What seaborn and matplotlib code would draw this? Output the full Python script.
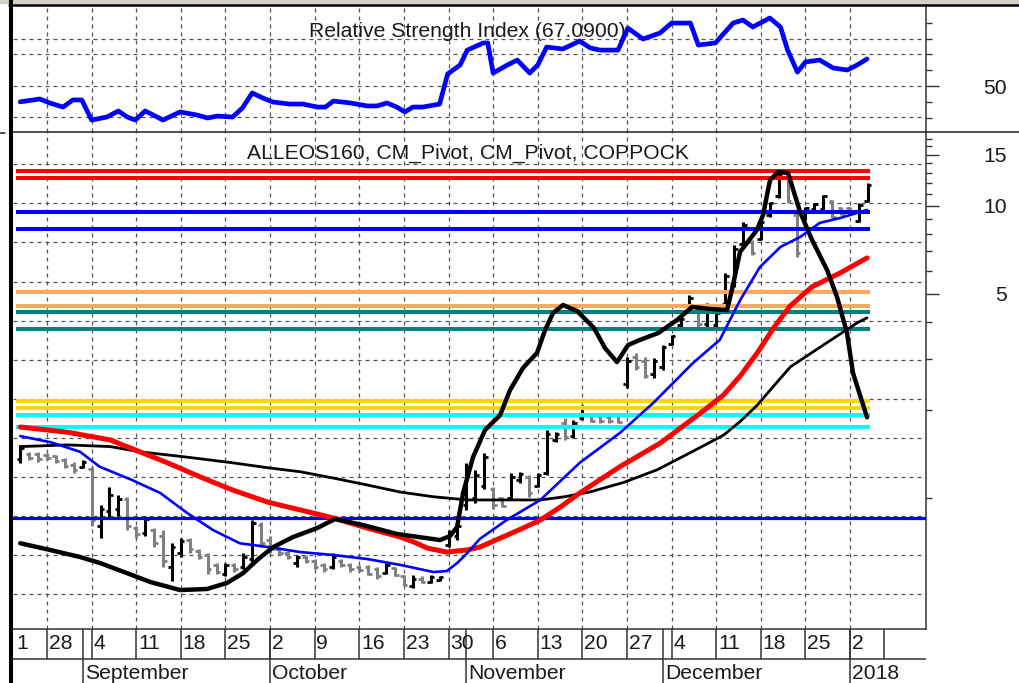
import numpy as np
import seaborn as sns
import matplotlib.pyplot as plt
from matplotlib.lines import Line2D
from matplotlib.patches import Rectangle
from matplotlib.ticker import FixedLocator, FixedFormatter, NullFormatter

sns.set_style('white')
plt.rcParams['font.family'] = ['Liberation Sans', 'DejaVu Sans']

# daily bars (x = trading-day index, 0 = 23 Aug 2017)
bar_high = [1.52, 1.44, 1.44, 1.43, 1.40, 1.37, 1.33, 1.35, 1.28, 0.95,
            1.09, 1.02, 1.01, 0.80, 0.87, 0.79, 0.78, 0.70, 0.73, 0.73,
            0.67, 0.65, 0.60, 0.60, 0.60, 0.65, 0.84, 0.83, 0.74, 0.68,
            0.66, 0.64, 0.64, 0.62, 0.60, 0.65, 0.62, 0.60, 0.59, 0.59,
            0.58, 0.60, 0.58, 0.545, 0.545, 0.54, 0.545, 0.54, 0.78, 0.82,
            1.32, 1.25, 1.43, 1.09, 1.01, 1.22, 1.23, 1.20, 1.22, 1.71,
            1.68, 1.88, 1.85, 2.08, 1.95, 1.92, 1.92, 1.95, 3.04, 3.14,
            3.04, 3.02, 3.34, 3.62, 4.17, 4.96, 4.47, 4.65, 4.34, 5.90,
            7.35, 8.81, 7.65, 8.96, 10.32, 13.07, 12.77, 9.46, 9.92, 10.24,
            10.91, 10.48, 9.92, 9.92, 10.24, 11.99]
bar_low = [1.32, 1.35, 1.33, 1.35, 1.32, 1.27, 1.22, 1.27, 0.80, 0.73,
           0.85, 0.87, 0.78, 0.73, 0.74, 0.68, 0.58, 0.52, 0.63, 0.65,
           0.62, 0.55, 0.55, 0.54, 0.56, 0.57, 0.60, 0.68, 0.65, 0.64,
           0.62, 0.58, 0.60, 0.57, 0.56, 0.57, 0.58, 0.56, 0.56, 0.545,
           0.53, 0.55, 0.54, 0.50, 0.49, 0.51, 0.51, 0.52, 0.68, 0.72,
           0.91, 0.96, 1.07, 0.92, 0.93, 0.985, 1.13, 1.01, 1.09, 1.20,
           1.555, 1.58, 1.60, 1.85, 1.82, 1.81, 1.81, 1.81, 2.38, 2.74,
           2.58, 2.58, 2.74, 3.34, 3.85, 4.30, 3.85, 3.85, 3.85, 4.51,
           5.28, 7.24, 6.80, 7.65, 9.17, 10.65, 10.24, 6.69, 8.96, 9.69,
           9.69, 9.10, 9.32, 9.46, 8.81, 10.32]
bar_open = [1.36, 1.42, 1.42, 1.40, 1.39, 1.35, 1.30, 1.28, 1.26, 0.80,
            0.90, 0.92, 0.99, 0.79, 0.76, 0.78, 0.74, 0.58, 0.65, 0.72,
            0.66, 0.64, 0.59, 0.55, 0.59, 0.58, 0.62, 0.81, 0.72, 0.67,
            0.65, 0.60, 0.63, 0.61, 0.59, 0.58, 0.61, 0.59, 0.58, 0.58,
            0.57, 0.555, 0.575, 0.54, 0.50, 0.53, 0.515, 0.525, 0.69, 0.74,
            0.95, 1.00, 1.10, 1.07, 1.00, 1.00, 1.15, 1.18, 1.10, 1.22,
            1.58, 1.80, 1.63, 1.88, 1.93, 1.91, 1.90, 1.92, 2.45, 3.05,
            2.95, 2.65, 2.80, 3.38, 3.90, 4.35, 4.40, 3.95, 3.90, 4.60,
            5.40, 7.40, 7.55, 7.70, 9.30, 10.80, 12.50, 9.30, 9.00, 9.75,
            9.80, 10.40, 9.85, 9.85, 8.90, 10.40]
bar_close = [1.48, 1.37, 1.36, 1.37, 1.34, 1.29, 1.25, 1.33, 0.84, 0.92,
             1.02, 0.99, 0.80, 0.75, 0.85, 0.70, 0.61, 0.68, 0.71, 0.67,
             0.63, 0.57, 0.56, 0.59, 0.57, 0.63, 0.82, 0.70, 0.67, 0.65,
             0.63, 0.63, 0.61, 0.58, 0.57, 0.63, 0.59, 0.57, 0.565, 0.55,
             0.54, 0.59, 0.545, 0.505, 0.53, 0.515, 0.535, 0.535, 0.76, 0.80,
             1.25, 1.20, 1.38, 0.95, 0.94, 1.18, 1.21, 1.04, 1.20, 1.66,
             1.65, 1.62, 1.80, 2.04, 1.84, 1.83, 1.83, 1.82, 2.95, 2.80,
             2.62, 2.95, 3.28, 3.58, 4.10, 4.85, 3.95, 4.55, 4.30, 5.75,
             7.10, 8.60, 6.90, 8.80, 10.20, 12.80, 10.40, 6.90, 9.85, 10.15,
             10.80, 9.20, 9.40, 9.50, 10.10, 11.80]

# moving averages
ma_fast_x = [0, 3.5, 6.7, 8.9, 12.6, 15.7, 18.7, 21.6, 24.6, 27.7, 31.4, 35.1, 38.9, 42.6, 46.3, 47.8,
             49.0, 50.1, 51.5, 54.5, 58.3, 62.7, 67.2, 70.9, 75.4, 78.4, 80.7, 82.9, 85.2, 87.4,
             89.6, 91.9, 94.9]
ma_fast = [1.63, 1.55, 1.44, 1.28, 1.15, 1.04, 0.889, 0.777, 0.70, 0.68, 0.653, 0.638, 0.618, 0.59,
           0.558, 0.562, 0.60, 0.648, 0.724, 0.84, 0.985, 1.32, 1.67, 2.11, 2.90, 3.48, 4.77, 6.18,
           7.24, 7.83, 8.75, 9.10, 9.69]
ma_mid_x = [0, 5.3, 10.1, 13.4, 16.5, 20.2, 23.8, 27.7, 31.4, 35.1, 38.9, 42.6, 44.2, 45.6, 47.8,
            50.1, 51.5, 53.8, 56.0, 58.3, 60.5, 62.7, 67.2, 71.7, 76.2, 78.8, 80.7, 82.6, 84.5, 86.3,
            88.7, 91.9, 94.9]
ma_mid = [1.75, 1.68, 1.58, 1.44, 1.32, 1.18, 1.065, 0.969, 0.91, 0.854, 0.789, 0.735, 0.705,
          0.674, 0.653, 0.664, 0.679, 0.729, 0.78, 0.841, 0.93, 1.04, 1.28, 1.54, 1.95, 2.25, 2.62,
          3.14, 3.85, 4.55, 5.28, 5.90, 6.64]
ma_slow_x = [0, 5.3, 10.1, 13.4, 18.7, 23.8, 27.7, 31.4, 35.1, 38.9, 42.6, 46.3, 50.1,
             52.7, 58.3, 61.0, 63.9, 67.6, 71.4, 75.1, 78.8, 80.7, 82.6, 84.5, 86.3, 90.0, 93.8, 94.9]
ma_slow = [1.50, 1.52, 1.50, 1.44, 1.38, 1.32, 1.27, 1.23, 1.17, 1.108, 1.048, 1.01, 0.985,
           0.985, 0.985, 1.01, 1.05, 1.13, 1.25, 1.43, 1.64, 1.83, 2.08, 2.43, 2.81, 3.34, 3.98, 4.14]

# coppock curve (drawn on the price scale)
coppock_x = [0.0, 3.34, 6.7, 8.94, 11.97, 14.55, 17.91, 20.93, 23.18, 24.97, 26.55, 28.34, 30.58,
             33.27, 35.28, 38.42, 42.23, 47.05, 48.17, 48.96, 49.63, 50.75, 52.09, 53.77, 54.89,
             56.35, 57.92, 58.82, 59.71, 60.83, 62.4, 64.31, 65.54, 66.88, 68.12, 69.46, 71.48,
             73.61, 75.29, 77.31, 79.21, 79.88, 80.67, 82.57, 83.25, 84.03, 84.93, 86.05, 87.4,
             88.74, 90.42, 91.54, 92.66, 93.33, 94.9]
coppock = [0.70, 0.664, 0.628, 0.599, 0.553, 0.516, 0.484, 0.488, 0.512, 0.553, 0.613, 0.679, 0.735,
           0.789, 0.847, 0.808, 0.753, 0.718, 0.741, 0.796, 1.04, 1.38, 1.71, 1.92, 2.34,
           2.79, 3.14, 3.76, 4.30, 4.58, 4.37, 3.82, 3.26, 2.92, 3.34, 3.48, 3.67,
           4.07, 4.51, 4.44, 4.40, 5.36, 6.96, 8.28, 9.32, 12.27, 13.07, 12.97, 9.54,
           7.65, 6.04, 4.88, 3.67, 2.68, 1.89]

# RSI
rsi_x = [0.0, 2.2, 3.3, 4.8, 5.9, 6.9, 8.0, 9.7, 11.0, 12.0, 12.9, 14.0, 14.9, 16.0, 17.9, 19.8,
         21.0, 22.1, 23.8, 24.9, 26.0, 27.2, 28.3, 30.2, 31.7, 33.3, 34.2, 35.1, 37.0, 38.9, 40.0,
         41.1, 42.2, 43.1, 44.0, 45.1, 47.0, 47.9, 49.3, 50.1, 51.9, 52.4, 53.0, 54.6, 55.7, 57.1,
         58.0, 59.0, 60.8, 62.7, 63.9, 65.0, 67.0, 68.1, 69.8, 71.7, 73.0, 75.1, 76.0, 77.9, 79.9,
         81.0, 82.1, 84.0, 85.2, 86.0, 87.1, 88.0, 89.6, 91.1, 92.7, 93.8, 94.9]
rsi = [40.0, 41.8, 39.3, 36.7, 41.2, 41.2, 28.5, 30.4, 34.2, 30.4, 28.5, 34.2, 31.7, 28.5, 33.6, 31.7,
       29.8, 31.0, 30.4, 36.1, 45.6, 42.4, 39.9, 38.6, 38.6, 36.7, 36.7, 40.5, 39.3, 37.4, 37.4,
       39.3, 36.7, 33.6, 36.7, 36.7, 38.6, 57.6, 63.3, 72.7, 77.2, 77.2, 58.2, 63.3, 66.4, 58.2,
       63.3, 74.6, 73.4, 78.4, 74.0, 72.7, 72.7, 86.6, 79.7, 83.5, 89.8, 89.8, 75.9, 77.2, 89.8,
       91.7, 87.3, 93.0, 87.3, 72.7, 58.8, 65.2, 66.4, 61.4, 60.1, 63.3, 67.1]

# pivot levels
pivot_levels = [13.18, 12.50, 9.51, 8.36, 5.09, 4.56, 4.35, 3.79, 2.15, 2.04, 1.92, 1.75]
pivot_colors = ['#ff0000', '#ff0000', '#0000ff', '#0000ff', '#ffa860', '#ffa860',
                '#008080', '#008080', '#ffd700', '#ffd700', '#00ffff', '#00ffff']
support_level = 0.852

# date axis
week_lines = [3, 8, 13, 18, 23, 28, 33, 38, 43, 48, 53, 58, 63, 68, 73, 78, 83, 88, 93]
day_label_pos = [-0.6] + week_lines
day_labels = ['1', '28', '4', '11', '18', '25', '2', '9', '16', '23', '30', '6', '13',
              '20', '27', '4', '11', '18', '25', '2']
month_starts = [7, 28, 50, 72, 93]
month_labels = ['September', 'October', 'November', 'December', '2018']
day_row_end = 96.8

W, H = 1020, 683
fig = plt.figure(figsize=(W / 100, H / 100), dpi=100)
L, R = 13, 926
xlim = (-0.807, 101.51)
txt_col = '#1a1a1a'
grid_kw = dict(color='#555555', lw=0.9, dashes=(3.2, 3.2), zorder=1)
FS = 15.2

ax_rsi = fig.add_axes([L / W, 1 - 132 / H, (R - L) / W, 127 / H])
ax = fig.add_axes([L / W, 1 - 629 / H, (R - L) / W, 497 / H])
ax_d = fig.add_axes([L / W, 0, (R - L) / W, 54 / H])

# ---- RSI panel
ax_rsi.set_xlim(xlim)
ax_rsi.set_ylim(20.94, 101.2)
for w in week_lines:
    ax_rsi.axvline(w, **grid_kw)
for g in [80, 70.4, 50, 30.6]:
    ax_rsi.axhline(g, **grid_kw)
sns.lineplot(x=rsi_x, y=rsi, ax=ax_rsi, color='#0000ff', linewidth=3.4, zorder=4)
ax_rsi.text(0.498, 0.746, 'Relative Strength Index (67.0900)', transform=ax_rsi.transAxes,
            ha='center', va='baseline', fontsize=FS, color=txt_col, zorder=2)
ax_rsi.yaxis.tick_right()
ax_rsi.yaxis.set_major_locator(FixedLocator([50]))
ax_rsi.yaxis.set_major_formatter(FixedFormatter(['50']))
ax_rsi.yaxis.set_minor_locator(FixedLocator([30, 40, 60, 70, 80, 90]))
ax_rsi.yaxis.set_minor_formatter(NullFormatter())
ax_rsi.tick_params(axis='y', which='major', right=True, left=False, length=9.4, width=1,
                   pad=49, labelsize=FS, labelcolor=txt_col, color='#333333')
ax_rsi.tick_params(axis='y', which='minor', right=True, left=False, length=4.6, width=1,
                   color='#333333')
for lab in ax_rsi.get_yticklabels():
    lab.set_ha('right')
ax_rsi.set_xticks([])
ax_rsi.set_xlabel('')
ax_rsi.set_ylabel('')
for s in ['top', 'bottom', 'left']:
    ax_rsi.spines[s].set_visible(False)
ax_rsi.spines['right'].set_color('#333333')
ax_rsi.spines['right'].set_linewidth(1.1)
ax_rsi.patch.set_alpha(0)

# ---- price panel
ax.set_yscale('log')
ax.set_xlim(xlim)
ax.set_ylim(0.356, 17.92)
for w in week_lines:
    ax.axvline(w, **grid_kw)
for g in np.geomspace(13.89, 0.468, 12):
    ax.axhline(g, **grid_kw)

idx = np.arange(len(bar_high))
bar_cols = np.where(np.array(bar_close) >= np.array(bar_open), 'black', '#808080')
ax.vlines(idx, bar_low, bar_high, colors=bar_cols, lw=2.2, zorder=2)
ax.hlines(bar_open, idx - 0.4, idx, colors=bar_cols, lw=2.0, zorder=2)
ax.hlines(bar_close, idx, idx + 0.4, colors=bar_cols, lw=2.0, zorder=2)

ax.hlines(pivot_levels, -0.5, 95.2, colors=pivot_colors, lw=2.9, zorder=3)
ax.axhline(support_level, color='#0000ff', lw=2.3, zorder=3)

sns.lineplot(x=ma_slow_x, y=ma_slow, ax=ax, color='black', linewidth=2.0, zorder=4)
sns.lineplot(x=ma_mid_x, y=ma_mid, ax=ax, color='#ff0000', linewidth=3.6, zorder=4)
sns.lineplot(x=ma_fast_x, y=ma_fast, ax=ax, color='#0000ff', linewidth=1.9, zorder=4)
sns.lineplot(x=coppock_x, y=coppock, ax=ax, color='black', linewidth=3.2, zorder=5)

ax.text(0.498, 0.947, 'ALLEOS160, CM_Pivot, CM_Pivot, COPPOCK', transform=ax.transAxes,
        ha='center', va='baseline', fontsize=FS, color=txt_col, zorder=2)

ax.yaxis.tick_right()
ax.yaxis.set_major_locator(FixedLocator([5, 10, 15]))
ax.yaxis.set_major_formatter(FixedFormatter(['5', '10', '15']))
ax.yaxis.set_minor_locator(FixedLocator([1, 2, 3, 4, 6, 7, 8, 9, 11, 12, 13, 14, 16, 17]))
ax.yaxis.set_minor_formatter(NullFormatter())
ax.tick_params(axis='y', which='major', right=True, left=False, length=9.4, width=1,
               pad=49, labelsize=FS, labelcolor=txt_col, color='#333333')
ax.tick_params(axis='y', which='minor', right=True, left=False, length=4.6, width=1,
               color='#333333')
for lab in ax.get_yticklabels():
    lab.set_ha('right')
ax.set_xticks([])
ax.set_xlabel('')
ax.set_ylabel('')
for s in ['top', 'left']:
    ax.spines[s].set_visible(False)
for s in ['right', 'bottom']:
    ax.spines[s].set_color('#333333')
    ax.spines[s].set_linewidth(1.1)
ax.patch.set_alpha(0)

# ---- date rows
ax_d.set_xlim(xlim)
ax_d.set_ylim(0, 54)
ax_d.axis('off')
ax_d.axhline(24, color='#333333', lw=1.1)
ax_d.vlines(week_lines + [day_row_end], 24, 54, colors='#333333', lw=1.1)
ax_d.vlines(month_starts, 0, 54, colors='#333333', lw=1.1)
for p, t in zip(day_label_pos, day_labels):
    ax_d.text(p + 0.2, 34.3, t, ha='left', va='baseline', fontsize=FS, color=txt_col)
for p, t in zip(month_starts, month_labels):
    ax_d.text(p + 0.25, 4.3, t, ha='left', va='baseline', fontsize=FS, color=txt_col)

# ---- window frame
fig.add_artist(Rectangle((0, 1 - 3.3 / H), 1, 3.3 / H, transform=fig.transFigure,
                         color='#d4d0c8', zorder=0))
fig.add_artist(Line2D([9 / W, 1], [1 - 4.7 / H] * 2, color='black', lw=1.8))
fig.add_artist(Line2D([11.3 / W] * 2, [0, 1], color='black', lw=2.9))
fig.add_artist(Line2D([L / W, 1], [1 - 132 / H] * 2, color='#222222', lw=1.1))
fig.add_artist(Line2D([0, 5 / W], [1 - 133 / H] * 2, color='#222222', lw=1.1))

fig.savefig('out.png', dpi=100)
